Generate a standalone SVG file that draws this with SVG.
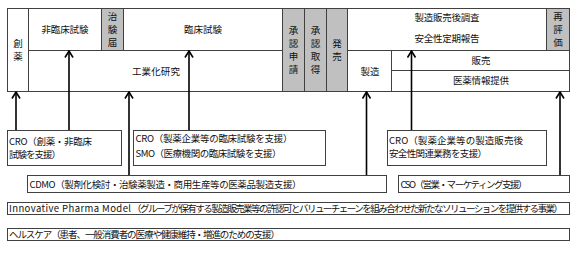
<svg xmlns="http://www.w3.org/2000/svg" width="583" height="256" viewBox="0 0 583 256">
<style>
.b{fill:#fff;stroke:#404040;stroke-width:1}
.g{fill:#c0c0c0;stroke:#404040;stroke-width:1}
text{font-family:"Noto Sans CJK JP","Noto Sans",sans-serif;font-size:9.5px;fill:#111}
.c{text-anchor:middle}
.a{stroke:#000;stroke-width:1.6;fill:none;marker-end:url(#ah)}
</style>
<defs>
<marker id="ah" markerWidth="10" markerHeight="10" refX="9" refY="5" orient="auto" markerUnits="userSpaceOnUse" viewBox="0 0 10 10">
<path d="M2.5,1 L9,5 L2.5,9" fill="none" stroke="#000" stroke-width="1.6"/>
</marker>
</defs>
<rect width="583" height="256" fill="#fff"/>
<g id="top">
<g id="soyaku"><rect class="b" x="7.5" y="8.5" width="21" height="83"/><text class="c" x="18" y="47">創</text><text class="c" x="18" y="60">薬</text></g>
<g id="hirinsho"><rect class="b" x="28.5" y="8.5" width="73" height="42"/><text class="c" x="65" y="33" textLength="47">非臨床試験</text></g>
<g id="chiken"><rect class="g" x="101.5" y="8.5" width="22" height="42"/><text class="c" x="112.5" y="20">治</text><text class="c" x="112.5" y="33">験</text><text class="c" x="112.5" y="46">届</text></g>
<g id="rinsho"><rect class="b" x="123.5" y="8.5" width="159" height="42"/><text class="c" x="203" y="33" textLength="38">臨床試験</text></g>
<g id="kogyoka"><rect class="b" x="28.5" y="50.5" width="254" height="41"/><text class="c" x="156" y="75" textLength="48">工業化研究</text></g>
<g id="shoninshinsei"><rect class="g" x="282.5" y="8.5" width="22" height="83"/><text class="c" x="293.5" y="34">承</text><text class="c" x="293.5" y="47">認</text><text class="c" x="293.5" y="60">申</text><text class="c" x="293.5" y="73">請</text></g>
<g id="shoninshutoku"><rect class="g" x="304.5" y="8.5" width="22" height="83"/><text class="c" x="315.5" y="34">承</text><text class="c" x="315.5" y="47">認</text><text class="c" x="315.5" y="60">取</text><text class="c" x="315.5" y="73">得</text></g>
<g id="hatsubai"><rect class="g" x="326.5" y="8.5" width="21" height="83"/><text class="c" x="337" y="47">発</text><text class="c" x="337" y="60">売</text></g>
<g id="seizohanbaigo"><rect class="b" x="347.5" y="8.5" width="199" height="42"/><text class="c" x="447" y="21" textLength="65">製造販売後調査</text><text class="c" x="447" y="42" textLength="65">安全性定期報告</text></g>
<g id="saihyoka"><rect class="g" x="546.5" y="8.5" width="23" height="42"/><text class="c" x="558" y="20">再</text><text class="c" x="558" y="33">評</text><text class="c" x="558" y="46">価</text></g>
<g id="seizo"><rect class="b" x="347.5" y="50.5" width="44" height="41"/><text class="c" x="370" y="75">製造</text></g>
<g id="hanbai"><rect class="b" x="391.5" y="50.5" width="178" height="20"/><text class="c" x="481" y="64">販売</text></g>
<g id="iyakujoho"><rect class="b" x="391.5" y="70.5" width="178" height="21"/><text class="c" x="481" y="84" textLength="56">医薬情報提供</text></g>
</g>
<g id="connectors">
<line class="a" x1="16" y1="130" x2="16" y2="92"/>
<line class="a" x1="69" y1="130" x2="69" y2="51"/>
<line class="a" x1="129" y1="175" x2="129" y2="92"/>
<line class="a" x1="189" y1="130" x2="189" y2="51"/>
<line class="a" x1="366.5" y1="175" x2="366.5" y2="92"/>
<line class="a" x1="411.5" y1="130" x2="411.5" y2="51"/>
<line class="a" x1="560" y1="175" x2="560" y2="92"/>
</g>
<g id="cro1"><rect class="b" x="7.5" y="130.5" width="114" height="35"/><text x="9" y="145" textLength="83">CRO（創薬・非臨床</text><text x="9" y="158" textLength="52">試験を支援）</text></g>
<g id="cro2"><rect class="b" x="133.5" y="130.5" width="192" height="35"/><text x="135.5" y="142" textLength="157">CRO（製薬企業等の臨床試験を支援）</text><text x="135.5" y="157" textLength="146">SMO（医療機関の臨床試験を支援）</text></g>
<g id="cdmo"><rect class="b" x="27.5" y="175.5" width="359" height="17"/><text x="29.5" y="187.5" textLength="272">CDMO（製剤化検討・治験薬製造・商用生産等の医薬品製造支援）</text></g>
<g id="cro3"><rect class="b" x="387.5" y="130.5" width="159" height="35"/><text x="389" y="144" textLength="134">CRO（製薬企業等の製造販売後</text><text x="389" y="157" textLength="98">安全性関連業務を支援）</text></g>
<g id="cso"><rect class="b" x="398.5" y="175.5" width="171" height="17"/><text x="400.5" y="187.5" textLength="127">CSO（営業・マーケティング支援）</text></g>
<g id="ipm"><rect class="b" x="7.5" y="202.5" width="562" height="12"/><text x="9" y="212"><tspan textLength="122">Innovative Pharma Model</tspan><tspan x="132" textLength="431">（グループが保有する製造販売業等の許認可とバリューチェーンを組み合わせた新たなソリューションを提供する事業）</tspan></text></g>
<g id="healthcare"><rect class="b" x="7.5" y="228.5" width="562" height="12"/><text x="9" y="238" textLength="271">ヘルスケア（患者、一般消費者の医療や健康維持・増進のための支援）</text></g>
</svg>
